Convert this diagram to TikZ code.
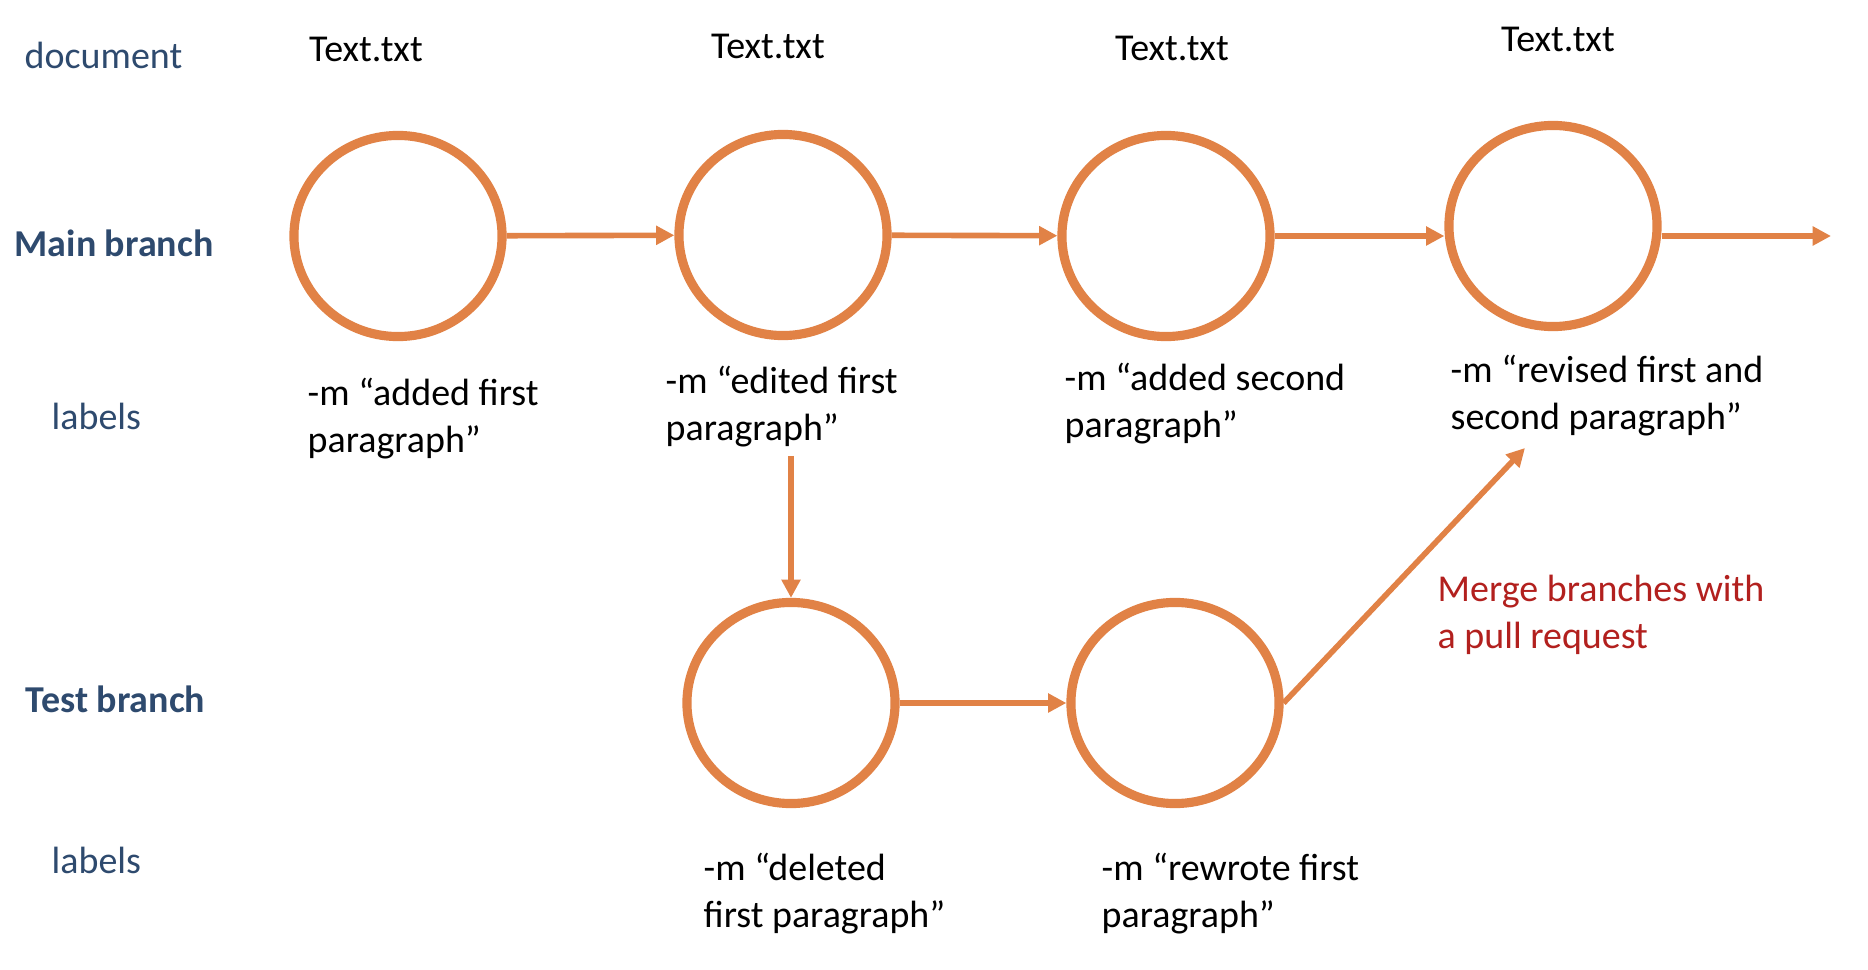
\documentclass[tikz,border=0pt]{standalone}
\usepackage{fontspec}
\setmainfont{Carlito}
\usepackage{tikz}
\usetikzlibrary{shapes}
\usetikzlibrary{arrows.meta}
\definecolor{commitorange}{RGB}{225,130,70}
\definecolor{rowblue}{RGB}{46,74,110}
\definecolor{mergered}{RGB}{178,32,30}
\tikzstyle{caption} = [inner sep=0pt, font=\fontsize{10.8}{13.4}\selectfont]
\tikzstyle{commit} = [ellipse, draw=commitorange, line width=2.6pt, fill=white,
minimum width=2.08cm, minimum height=2.01cm, inner sep=0pt]
\tikzstyle{message} = [caption, anchor=west, align=left]
\tikzstyle{rowname} = [caption, anchor=west, text=rowblue]
\tikzstyle{link} = [->, >={Triangle[length=5.2pt,width=5.2pt]}, draw=commitorange, line width=1.6pt]
\newcommand{\commit}[4]{ %
  % Draw the commit circle and put its message below it.
  \node[commit] (#1) at (#2) {} ; %
  \node[message] (#1-msg) at (#3) {#4} ; %
}

\begin{document}
\begin{tikzpicture}[x=0.01cm,y=-0.01cm]

	\useasboundingbox (0,0) rectangle (1868,970);

	% row names
	\node[rowname] (docrow)    at (24,55)  {document};
	\node[rowname, font=\fontsize{10.8}{13.4}\selectfont\bfseries] (mainrow) at (14,243) {Main branch};
	\node[rowname] (mainlabel) at (51,416) {labels};
	\node[rowname, font=\fontsize{10.8}{13.4}\selectfont\bfseries] (testrow) at (25,699) {Test branch};
	\node[rowname] (testlabel) at (51,860) {labels};

	% file names
	\node[caption] (file0) at (366,49)  {Text.txt};
	\node[caption] (file1) at (768,46)  {Text.txt};
	\node[caption] (file2) at (1172,48) {Text.txt};
	\node[caption] (file3) at (1558,39) {Text.txt};

	% main branch
	\commit {main0} {398,236}  {307,419}  {-m “added first\\paragraph”};
	\commit {main1} {783,235}  {665,407}  {-m “edited first\\paragraph”};
	\commit {main2} {1166,236} {1064,404} {-m “added second\\paragraph”};
	\commit {main3} {1553,226} {1450,396} {-m “revised first and\\second paragraph”};

	% test branch
	\commit {test0} {791,703}  {703,894}  {-m “deleted\\first paragraph”};
	\commit {test1} {1175,703} {1101,894} {-m “rewrote first\\paragraph”};

	\node[message, text=mergered] (merge) at (1437,615) {Merge branches with\\a pull request};

	\coordinate (mainend)  at (1831,236);
	\coordinate (split)    at (791,456);
	\coordinate (mergeend) at (1525,448);

	\draw[link] (main0) -- (main1);
	\draw[link] (main1) -- (main2);
	\draw[link] (main2.east) -- (main2.east -| main3.west);
	\draw[link] (main3.east |- mainend) -- (mainend);

	\draw[link] (split) -- (test0);
	\draw[link] (test0) -- (test1);
	\draw[link] (test1.east) -- (mergeend);

\end{tikzpicture}
\end{document}
